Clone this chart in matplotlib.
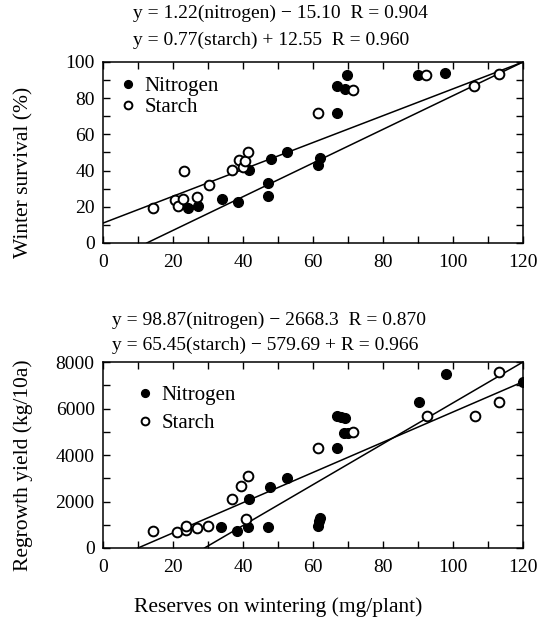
import matplotlib
matplotlib.use("Agg")
import matplotlib.pyplot as plt
from matplotlib.ticker import MultipleLocator

plt.rcParams['font.family'] = ['Liberation Serif', 'DejaVu Serif']

# winter survival (%) vs reserves (mg/plant)
surv_n_x = [24.2, 27.2, 33.9, 38.5, 41.8, 47.2, 47.2, 47.9, 52.5, 61.5, 62.0,
            66.8, 66.8, 69.1, 69.6, 90.1, 97.7]
surv_n_y = [19.1, 20.3, 24.5, 22.7, 40.1, 33.1, 25.8, 46.5, 50.2, 42.9, 46.9,
            71.8, 86.8, 85.0, 92.7, 92.7, 94.1]
surv_s_x = [14.2, 20.6, 21.5, 22.8, 23.1, 26.9, 30.4, 36.8, 38.9, 39.9, 40.6,
            41.5, 61.5, 71.3, 92.3, 106.1, 113.2]
surv_s_y = [19.1, 23.6, 20.3, 24.5, 39.7, 25.4, 32.2, 40.1, 46.0, 41.9, 45.1,
            50.2, 71.8, 84.6, 92.7, 86.8, 93.6]

# regrowth yield (kg/10a) vs reserves (mg/plant)
yield_n_x = [33.6, 38.2, 41.5, 41.8, 47.0, 47.7, 52.7, 61.3, 61.8, 62.0, 66.9,
             66.8, 67.9, 69.1, 68.8, 70.0, 90.4, 98.0, 120.0]
yield_n_y = [903, 714, 903, 2107, 903, 2607, 3010, 929, 1144, 1287, 4301,
             5690, 5634, 5591, 4946, 4960, 6263, 7497, 7124]
yield_s_x = [14.2, 21.2, 23.7, 23.8, 26.9, 30.1, 36.8, 39.4, 41.3, 40.9, 61.5,
             71.3, 92.5, 106.3, 113.2, 113.2]
yield_s_y = [744, 688, 787, 930, 860, 959, 2107, 2650, 3080, 1247, 4301,
             4972, 5660, 5690, 6280, 7570]

# regression lines as drawn in the figure (end points)
surv_fit_n = ([12.5, 120], [0, 100])
surv_fit_s = ([0, 120], [11, 100])
yield_fit_n = ([29, 120], [0, 8000])
yield_fit_s = ([10, 120], [0, 7150])

surv_eq = ["y = 1.22(nitrogen) \u2212 15.10  R = 0.904",
           "y = 0.77(starch) + 12.55  R = 0.960"]
yield_eq = ["y = 98.87(nitrogen) \u2212 2668.3  R = 0.870",
            "y = 65.45(starch) \u2212 579.69 + R = 0.966"]

W, H = 540, 620
fig = plt.figure(figsize=(W / 100, H / 100), dpi=100)
FS = 14
LFS = 15.5


def px_axes(left, top, right, bottom):
    return fig.add_axes([left / W, 1 - bottom / H, (right - left) / W, (bottom - top) / H])


def style(ax, ymax, ystep, yminor):
    ax.set_xlim(0, 120)
    ax.set_ylim(0, ymax)
    ax.xaxis.set_major_locator(MultipleLocator(20))
    ax.xaxis.set_minor_locator(MultipleLocator(10))
    ax.yaxis.set_major_locator(MultipleLocator(ystep))
    ax.yaxis.set_minor_locator(MultipleLocator(yminor))
    ax.tick_params(which='both', direction='in', top=True, right=True,
                   length=5, width=1, labelsize=FS)
    ax.tick_params(axis='x', pad=8)
    ax.tick_params(axis='y', pad=6)
    for s in ax.spines.values():
        s.set_linewidth(1.1)


def draw(ax, nx, ny, sx, sy, fit_n, fit_s):
    ax.plot(*fit_n, color='black', lw=1.1, zorder=2)
    ax.plot(*fit_s, color='black', lw=1.1, zorder=2)
    ax.plot(nx, ny, 'o', ms=7, color='black', label='Nitrogen', zorder=3)
    ax.plot(sx, sy, 'o', ms=7, mfc='white', mec='black', mew=1.4,
            label='Starch', zorder=3)


ax1 = px_axes(103, 62, 523, 243)
draw(ax1, surv_n_x, surv_n_y, surv_s_x, surv_s_y, surv_fit_n, surv_fit_s)
style(ax1, 100, 20, 10)
ax1.set_ylabel('Winter survival (%)', fontsize=LFS)
ax1.yaxis.set_label_coords(-0.165, 0.39)
ax1.legend(loc='upper left', bbox_to_anchor=(-0.01, 1.025), frameon=False,
           fontsize=15, handletextpad=0.3, handlelength=1.0,
           labelspacing=0.1, borderpad=0.4, markerscale=0.8)

ax2 = px_axes(103, 362, 523, 548)
draw(ax2, yield_n_x, yield_n_y, yield_s_x, yield_s_y, yield_fit_n, yield_fit_s)
style(ax2, 8000, 2000, 1000)
ax2.set_ylabel('Regrowth yield (kg/10a)', fontsize=LFS)
ax2.yaxis.set_label_coords(-0.167, 0.446)
ax2.legend(loc='upper left', bbox_to_anchor=(0.03, 0.975), frameon=False,
           fontsize=15, handletextpad=0.3, handlelength=1.0,
           labelspacing=0.4, borderpad=0.4, markerscale=0.8)

fig.text(133 / W, 1 - 13 / H, surv_eq[0], fontsize=FS, va='center', ha='left')
fig.text(133 / W, 1 - 40 / H, surv_eq[1], fontsize=FS, va='center', ha='left')
fig.text(112 / W, 1 - 320 / H, yield_eq[0], fontsize=FS, va='center', ha='left')
fig.text(112 / W, 1 - 345 / H, yield_eq[1], fontsize=FS, va='center', ha='left')

fig.text(278 / W, 1 - 607 / H, 'Reserves on wintering (mg/plant)', fontsize=LFS,
         va='center', ha='center')

fig.savefig('out.png', dpi=100)
